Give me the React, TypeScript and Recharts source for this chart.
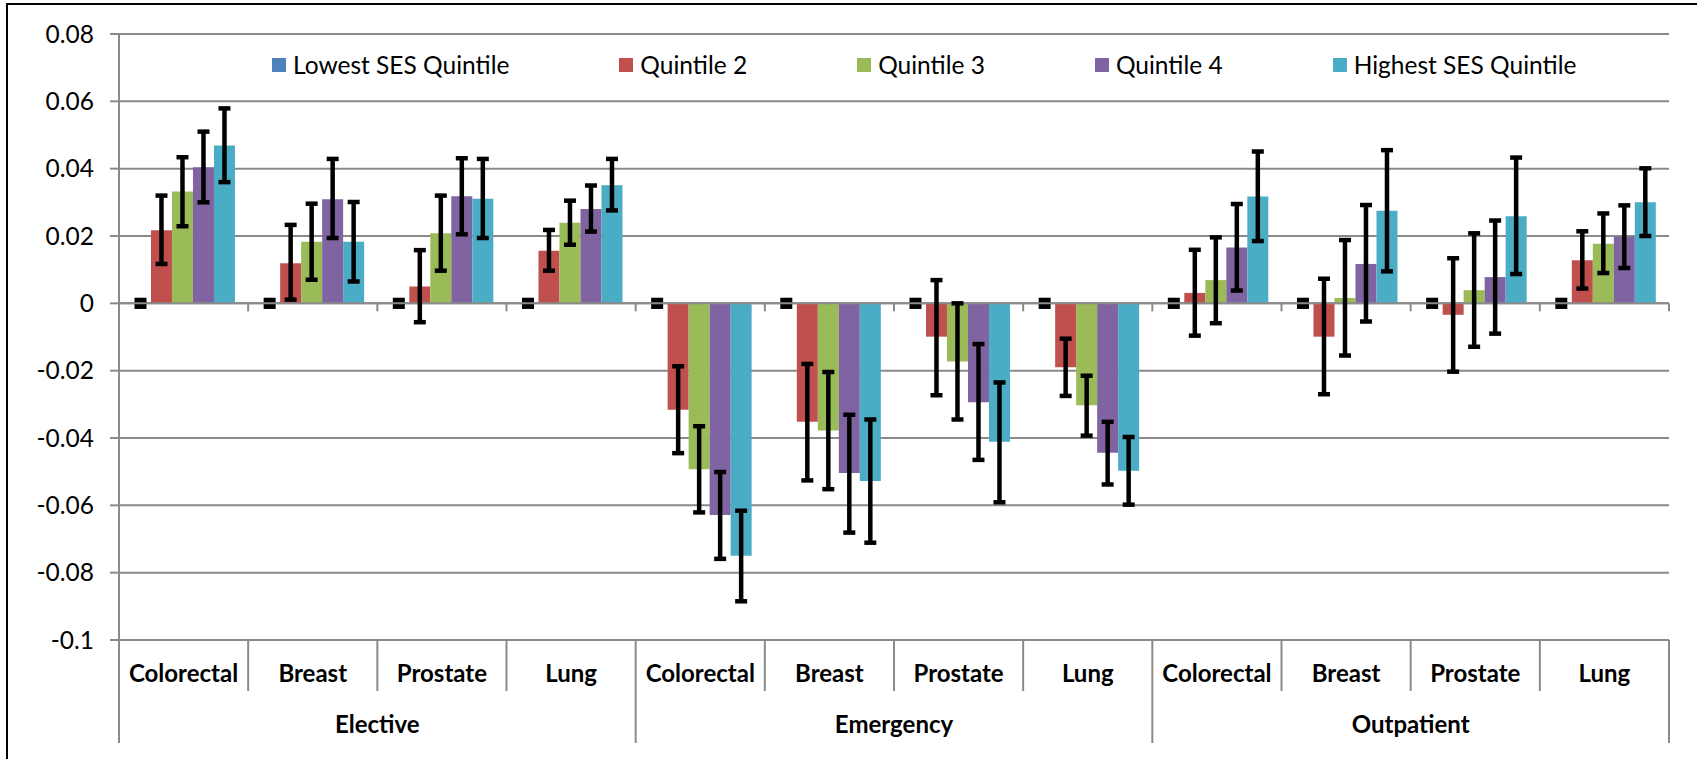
import { BarChart, Bar, XAxis, YAxis, CartesianGrid, ErrorBar, Legend, ReferenceLine } from 'recharts'

const categories = ['Colorectal', 'Breast', 'Prostate', 'Lung', 'Colorectal', 'Breast', 'Prostate', 'Lung', 'Colorectal', 'Breast', 'Prostate', 'Lung']
const groups = ['Elective', 'Elective', 'Elective', 'Elective', 'Emergency', 'Emergency', 'Emergency', 'Emergency', 'Outpatient', 'Outpatient', 'Outpatient', 'Outpatient']
const yTicks = [-0.1, -0.08, -0.06, -0.04, -0.02, 0, 0.02, 0.04, 0.06, 0.08]

// reference group: value 0, its interval shows only as a small black block
const lowestLo = [-0.001, -0.001, -0.001, -0.001, -0.001, -0.001, -0.001, -0.001, -0.001, -0.001, -0.001, -0.001]
const lowestHi = [0.001, 0.001, 0.001, 0.001, 0.001, 0.001, 0.001, 0.001, 0.001, 0.001, 0.001, 0.001]

const q2 = [0.0217, 0.0119, 0.005, 0.0156, -0.0316, -0.0352, -0.0099, -0.019, 0.0031, -0.0099, -0.0034, 0.0128]
const q2Lo = [0.0117, 0.0011, -0.0056, 0.0097, -0.0445, -0.0526, -0.0273, -0.0275, -0.0096, -0.027, -0.0203, 0.0044]
const q2Hi = [0.032, 0.0233, 0.0158, 0.0218, -0.0187, -0.018, 0.0069, -0.0105, 0.0159, 0.0073, 0.0134, 0.0214]

const q3 = [0.0332, 0.0183, 0.0208, 0.0239, -0.0493, -0.0378, -0.0173, -0.0303, 0.0069, 0.0016, 0.0039, 0.0177]
const q3Lo = [0.0229, 0.007, 0.0097, 0.0174, -0.0621, -0.0552, -0.0345, -0.0393, -0.0059, -0.0155, -0.0129, 0.009]
const q3Hi = [0.0434, 0.0296, 0.032, 0.0305, -0.0365, -0.0204, 0.0, -0.0215, 0.0196, 0.0188, 0.0208, 0.0267]

const q4 = [0.0404, 0.0309, 0.0318, 0.028, -0.0629, -0.0504, -0.0294, -0.0444, 0.0166, 0.0117, 0.0078, 0.0198]
const q4Lo = [0.03, 0.0194, 0.0205, 0.0213, -0.0759, -0.0681, -0.0465, -0.0538, 0.0038, -0.0054, -0.009, 0.0105]
const q4Hi = [0.051, 0.0429, 0.0431, 0.035, -0.0501, -0.0331, -0.0121, -0.0352, 0.0295, 0.0292, 0.0246, 0.0291]

const q5 = [0.0469, 0.0183, 0.0311, 0.0351, -0.075, -0.0528, -0.0411, -0.0497, 0.0317, 0.0275, 0.0259, 0.03]
const q5Lo = [0.036, 0.0065, 0.0194, 0.0276, -0.0885, -0.0711, -0.0591, -0.0598, 0.0185, 0.0095, 0.0087, 0.02]
const q5Hi = [0.0579, 0.0301, 0.0429, 0.0429, -0.0616, -0.0345, -0.0235, -0.0397, 0.0451, 0.0455, 0.0433, 0.0401]

const err = (v: number[], lo: number[], hi: number[], i: number) => [v[i] - lo[i], hi[i] - v[i]]

const data = categories.map((name, i) => ({
  id: i,
  name,
  group: groups[i],
  lowest: [lowestLo[i], lowestHi[i]],
  q2: q2[i], q2Err: err(q2, q2Lo, q2Hi, i),
  q3: q3[i], q3Err: err(q3, q3Lo, q3Hi, i),
  q4: q4[i], q4Err: err(q4, q4Lo, q4Hi, i),
  q5: q5[i], q5Err: err(q5, q5Lo, q5Hi, i),
}))

const series = [
  { key: 'lowest', name: 'Lowest SES Quintile', color: '#4F81BD' },
  { key: 'q2', name: 'Quintile 2', color: '#C0504D' },
  { key: 'q3', name: 'Quintile 3', color: '#9BBB59' },
  { key: 'q4', name: 'Quintile 4', color: '#8064A2' },
  { key: 'q5', name: 'Highest SES Quintile', color: '#4BACC6' },
]

const W = 1697
const H = 759
const FONT = 'Lato, "Open Sans", sans-serif'
const GRID = '#8a8a8a'
const margin = { top: 34, right: 28, left: 0, bottom: 16 }
const Y_W = 119
const HALF_BAND = (W - margin.right - Y_W) / categories.length / 2
const CAP = 6
const ERR_W = 4.5

function CategoryTick(props: any) {
  const { x, y, payload, index } = props
  const half = payload && payload.offset > 0 ? payload.offset : HALF_BAND
  return (
    <g>
      <line x1={x - half} y1={y} x2={x - half} y2={y + 51} stroke={GRID} strokeWidth={2} />
      {index === categories.length - 1 && (
        <line x1={x + half} y1={y} x2={x + half} y2={y + 51} stroke={GRID} strokeWidth={2} />
      )}
      <text x={x} y={y + 42} textAnchor="middle" fontFamily={FONT} fontWeight="bold" fontSize={24} fill="#000">
        {categories[payload.value] ?? payload.value}
      </text>
    </g>
  )
}

function GroupTick(props: any) {
  const { x, y, payload, index } = props
  const half = payload && payload.offset > 0 ? payload.offset : HALF_BAND * 4
  return (
    <g>
      <line x1={x - half} y1={y} x2={x - half} y2={y + 52} stroke={GRID} strokeWidth={2} />
      {index === 2 && <line x1={x + half} y1={y} x2={x + half} y2={y + 52} stroke={GRID} strokeWidth={2} />}
      <text x={x} y={y + 42} textAnchor="middle" fontFamily={FONT} fontWeight="bold" fontSize={24} fill="#000">
        {payload.value}
      </text>
    </g>
  )
}

function ZeroAxis(props: any) {
  const { x1, x2, y1 } = props
  const step = (x2 - x1) / categories.length
  return (
    <g>
      <line x1={x1} y1={y1} x2={x2} y2={y1} stroke={GRID} strokeWidth={2} />
      {categories.map((_, i) => (
        <line key={i} x1={x1 + step * (i + 1)} y1={y1} x2={x1 + step * (i + 1)} y2={y1 + 8} stroke={GRID} strokeWidth={2} />
      ))}
    </g>
  )
}

// the zero-valued reference bar: only its interval is visible, as a black cap block
function LowestShape(props: any) {
  const { x, y, width, height } = props
  const top = Math.min(y, y + height)
  const h = Math.abs(height)
  const cx = x + width / 2
  return <rect x={cx - CAP} y={top - ERR_W / 2} width={CAP * 2} height={h + ERR_W} fill="#000" />
}

function LegendRow(props: any) {
  const items = [...(props.payload || [])].sort(
    (a: any, b: any) => series.findIndex((s) => s.name === a.value) - series.findIndex((s) => s.name === b.value),
  )
  return (
    <div style={{ display: 'flex', gap: 110, fontFamily: FONT, fontSize: 24.5, color: '#000', whiteSpace: 'nowrap' }}>
      {items.map((it: any) => (
        <div key={it.value} style={{ display: 'flex', alignItems: 'center' }}>
          <span style={{ width: 14, height: 14, background: it.color, marginRight: 7, display: 'inline-block' }} />
          <span>{it.value}</span>
        </div>
      ))}
    </div>
  )
}

export default function App() {
  return (
    <div style={{ position: 'relative', width: W, height: H, background: '#fff', overflow: 'hidden' }}>
      <style>{`body{margin:0}`}</style>
      <div style={{ position: 'absolute', left: 6, top: 3, right: -10, bottom: -10, borderTop: '2.5px solid #000', borderLeft: '2.5px solid #000' }} />
      <BarChart
        width={W}
        height={H}
        data={data}
        margin={margin}
        barCategoryGap="8.5%"
        barGap={0}
        style={{ position: 'absolute', left: 0, top: 0 }}
      >
        <CartesianGrid vertical={false} stroke={GRID} strokeWidth={2} />
        <XAxis
          dataKey="id"
          interval={0}
          axisLine={false}
          tickLine={false}
          tickSize={0}
          tickMargin={0}
          height={51}
          tick={<CategoryTick />}
        />
        <XAxis
          xAxisId="grp"
          dataKey="group"
          allowDuplicatedCategory={false}
          interval={0}
          axisLine={false}
          tickLine={false}
          tickSize={0}
          tickMargin={0}
          height={52}
          tick={<GroupTick />}
        />
        <YAxis
          width={Y_W}
          domain={[-0.1, 0.08]}
          ticks={yTicks}
          allowDataOverflow
          interval={0}
          axisLine={{ stroke: GRID, strokeWidth: 2 }}
          tickLine={{ stroke: GRID, strokeWidth: 2 }}
          tickSize={9}
          tickMargin={16}
          tick={{ fontFamily: FONT, fontSize: 24.5, fill: '#000' }}
        />
        <ReferenceLine y={0} shape={<ZeroAxis />} />
        <Legend
          layout="horizontal"
          verticalAlign="middle"
          align="center"
          content={<LegendRow />}
          wrapperStyle={{ position: 'absolute', left: 272, top: 50, width: 'auto' }}
        />
        {series.map((s) =>
          s.key === 'lowest' ? (
            <Bar key={s.key} dataKey={s.key} name={s.name} fill={s.color} shape={<LowestShape />} isAnimationActive={false} />
          ) : (
            <Bar key={s.key} dataKey={s.key} name={s.name} fill={s.color} isAnimationActive={false}>
              <ErrorBar dataKey={`${s.key}Err`} width={CAP} strokeWidth={ERR_W} stroke="#000" />
            </Bar>
          ),
        )}
      </BarChart>
    </div>
  )
}
